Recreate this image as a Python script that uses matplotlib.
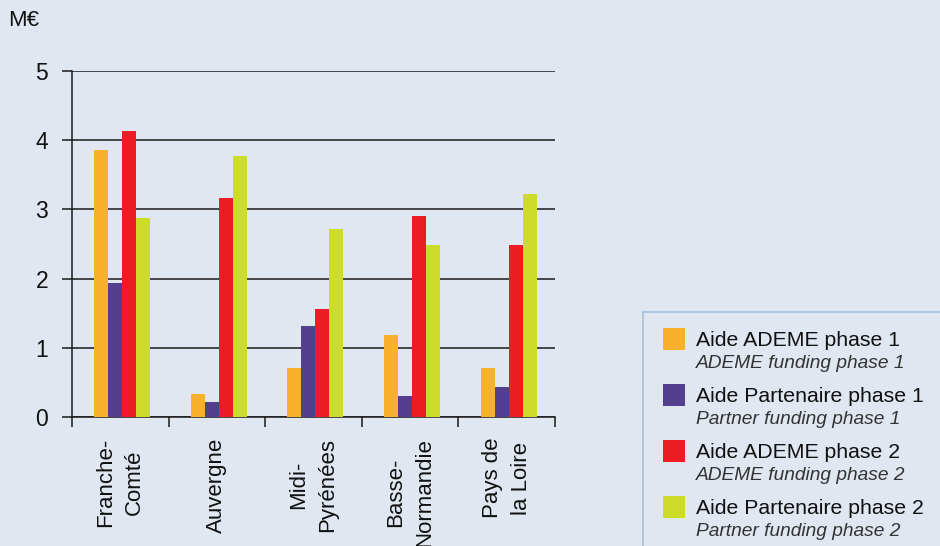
import matplotlib
matplotlib.use("Agg")
import matplotlib.pyplot as plt
from matplotlib.patches import Rectangle
import numpy as np

plt.rcParams['font.family'] = ['Liberation Sans', 'DejaVu Sans']

regions = ["Franche-\nComté", "Auvergne", "Midi-\nPyrénées", "Basse-\nNormandie", "Pays de\nla Loire"]
ademe_p1 = [3.86, 0.33, 0.71, 1.18, 0.71]
partner_p1 = [1.94, 0.22, 1.31, 0.30, 0.43]
ademe_p2 = [4.14, 3.16, 1.56, 2.90, 2.48]
partner_p2 = [2.87, 3.77, 2.71, 2.48, 3.22]
series = [ademe_p1, partner_p1, ademe_p2, partner_p2]
labels_fr = ["Aide ADEME phase 1", "Aide Partenaire phase 1", "Aide ADEME phase 2", "Aide Partenaire phase 2"]
labels_en = ["ADEME funding phase 1", "Partner funding phase 1", "ADEME funding phase 2", "Partner funding phase 2"]
colors = ["#f7b12d", "#52408f", "#ed1c24", "#cddb2a"]
yticks = [0, 1, 2, 3, 4, 5]
unit = "M€"

W, H = 940, 546
bg = "#e0e7f1"
fig = plt.figure(figsize=(W / 100, H / 100), dpi=100, facecolor=bg)

def fx(x):
    return x / W

def fy(y):
    return 1 - y / H

ax = fig.add_axes([fx(72), fy(417), (555 - 72) / W, (417 - 71) / H])
ax.set_facecolor(bg)

n = len(regions)
centers = np.arange(n) + 0.5
bw = 0.145
for k, (vals, c) in enumerate(zip(series, colors)):
    ax.bar(centers + (k - 1.5) * bw + 0.02, vals, width=bw, color=c, zorder=3, linewidth=0)

ax.set_xlim(0, n)
ax.set_ylim(0, 5)
ax.set_yticks(yticks)
ax.set_yticklabels([str(v) for v in yticks])
ax.yaxis.grid(True, color="#1a1a1a", linewidth=1.1, zorder=1)
ax.tick_params(axis='y', length=7.2, width=1.1, color="#1a1a1a", pad=10, labelsize=16.5,
               labelcolor="#111111")

ax.set_xticks(np.arange(n + 1))
ax.set_xticklabels([])
ax.tick_params(axis='x', which='major', length=7.2, width=1.1, color="#1a1a1a")
ax.set_xticks(centers, minor=True)
ax.set_xticklabels(regions, minor=True, rotation=90, ha='center', va='top',
                   multialignment='center', fontsize=16, linespacing=1.5, color="#111111")
ax.tick_params(axis='x', which='minor', length=0, pad=15)

for s in ['top', 'right']:
    ax.spines[s].set_visible(False)
for s in ['left', 'bottom']:
    ax.spines[s].set_color("#1a1a1a")
    ax.spines[s].set_linewidth(1.1)

fig.text(fx(8), fy(21), unit, ha='left', va='center', fontsize=16, color="#111111")

# Legend box
fig.add_artist(Rectangle((fx(643), fy(560)), (W + 20 - 643) / W, (560 - 312) / H,
                         transform=fig.transFigure, facecolor=bg, edgecolor="#9ec3e0",
                         linewidth=1.2))
sq_tops = [328, 384, 440, 496]
for i, (c, lf, le) in enumerate(zip(colors, labels_fr, labels_en)):
    t = sq_tops[i]
    fig.add_artist(Rectangle((fx(663), fy(t + 22)), 22 / W, 22 / H,
                             transform=fig.transFigure, facecolor=c, edgecolor='none'))
    fig.text(fx(696), fy(t + 13), lf, ha='left', va='center', fontsize=15.3, color="#111111")
    fig.text(fx(696), fy(t + 36), le, ha='left', va='center', fontsize=13.8,
             style='italic', color="#333333")

fig.savefig("out.png", dpi=100, facecolor=bg)
